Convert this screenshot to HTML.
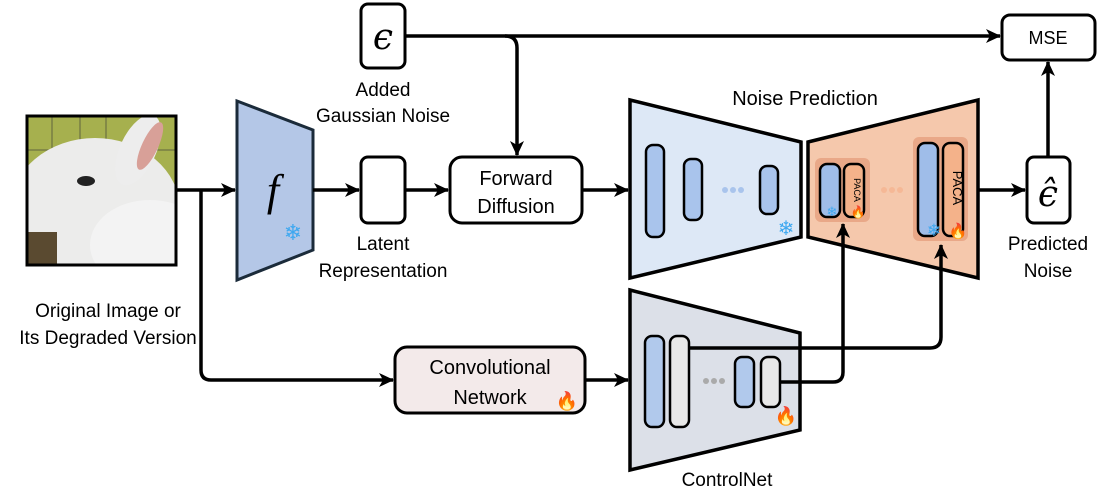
<!DOCTYPE html>
<html><head><meta charset="utf-8"><style>
html,body{margin:0;padding:0;background:#fff;}
svg{display:block;font-family:"Liberation Sans","DejaVu Sans",sans-serif;}
</style></head><body>
<svg width="1105" height="494" viewBox="0 0 1105 494" xmlns="http://www.w3.org/2000/svg">
<defs>
<marker id="a2" markerWidth="16" markerHeight="16" refX="14" refY="8" orient="auto" markerUnits="userSpaceOnUse" viewBox="0 0 16 16">
<path d="M0,1 L15,8 L0,15 L4,8 z" fill="#000"/>
</marker>
<clipPath id="ic"><rect x="27" y="116" width="149" height="149"/></clipPath>
</defs>

<!-- image -->
<g clip-path="url(#ic)">
<rect x="27" y="116" width="149" height="149" fill="#a6b04e"/>
<g stroke="#333" stroke-width="1" opacity="0.6">
<line x1="52" y1="116" x2="52" y2="180"/><line x1="80" y1="116" x2="80" y2="160"/><line x1="106" y1="116" x2="106" y2="160"/>
<line x1="27" y1="150" x2="176" y2="150"/>
</g>
<ellipse cx="95" cy="210" rx="85" ry="72" fill="#ececeb"/>
<ellipse cx="150" cy="245" rx="60" ry="45" fill="#f3f3f3"/>
<ellipse cx="138" cy="150" rx="18" ry="38" fill="#ededed" transform="rotate(25 138 150)"/>
<ellipse cx="150" cy="146" rx="8" ry="26" fill="#d8a098" transform="rotate(25 150 146)"/>
<rect x="27" y="232" width="30" height="33" fill="#5a4a30"/>
<ellipse cx="86" cy="181" rx="9" ry="5" fill="#222"/>
</g>
<rect x="27" y="116" width="149" height="149" fill="none" stroke="#000" stroke-width="3"/>

<!-- encoder f -->
<polygon points="237,101 313,130 313,250 237,280" fill="#b4c7e7" stroke="#1b2b3a" stroke-width="3"/>
<text x="273" y="205" font-family="Liberation Serif,serif" font-style="italic" font-size="44" text-anchor="middle">f</text>
<text x="293" y="240" font-size="22" fill="#3ea8f0" text-anchor="middle">❄</text>

<!-- connectors -->
<g stroke="#000" stroke-width="3.5" fill="none">
<line x1="176" y1="190" x2="235" y2="190" marker-end="url(#a2)"/>
<path d="M201,190 V370 Q201,380 211,380 H393" marker-end="url(#a2)"/>
<line x1="313" y1="190" x2="359" y2="190" marker-end="url(#a2)"/>
<line x1="405" y1="190" x2="448" y2="190" marker-end="url(#a2)"/>
<line x1="405" y1="36" x2="1000" y2="36" marker-end="url(#a2)"/>
<path d="M505,36 Q517,36 517,48 V155" marker-end="url(#a2)"/>
<line x1="582" y1="190" x2="628" y2="190" marker-end="url(#a2)"/>
<line x1="978" y1="190" x2="1025" y2="190" marker-end="url(#a2)"/>
<line x1="1048" y1="157" x2="1048" y2="62" marker-end="url(#a2)"/>
<line x1="585" y1="380" x2="628" y2="380" marker-end="url(#a2)"/>
</g>

<!-- epsilon -->
<rect x="361" y="4" width="44" height="64" rx="7" fill="#fff" stroke="#000" stroke-width="3"/>
<text x="383" y="49" font-family="DejaVu Serif,serif" font-style="italic" font-size="36" text-anchor="middle">ϵ</text>
<text x="383" y="96" font-size="19" text-anchor="middle">Added</text>
<text x="383" y="122" font-size="19" text-anchor="middle">Gaussian Noise</text>

<!-- latent -->
<rect x="361" y="157" width="44" height="66" rx="7" fill="#fff" stroke="#000" stroke-width="3"/>
<text x="383" y="250" font-size="19" text-anchor="middle">Latent</text>
<text x="383" y="277" font-size="19" text-anchor="middle">Representation</text>

<!-- forward diffusion -->
<rect x="450" y="157" width="132" height="66" rx="12" fill="#fff" stroke="#000" stroke-width="3"/>
<text x="516" y="185" font-size="20" text-anchor="middle">Forward</text>
<text x="516" y="213" font-size="20" text-anchor="middle">Diffusion</text>

<!-- labels left -->
<text x="108" y="317" font-size="19" text-anchor="middle">Original Image or</text>
<text x="108" y="344" font-size="19" text-anchor="middle">Its Degraded Version</text>

<!-- Noise prediction -->
<text x="805" y="105" font-size="20" text-anchor="middle">Noise Prediction</text>
<polygon points="630,100 801,142 801,237 630,278" fill="#dde8f6" stroke="#000" stroke-width="3.5"/>
<rect x="646" y="145" width="18" height="92" rx="7" fill="#a9c4ec" stroke="#000" stroke-width="2.5"/>
<rect x="684" y="159" width="18" height="61" rx="7" fill="#a9c4ec" stroke="#000" stroke-width="2.5"/>
<rect x="760" y="166" width="18" height="48" rx="7" fill="#a9c4ec" stroke="#000" stroke-width="2.5"/>
<g fill="#a9c4ec"><circle cx="725" cy="190" r="3"/><circle cx="733" cy="190" r="3"/><circle cx="741" cy="190" r="3"/></g>
<text x="786" y="235" font-size="20" fill="#3ea8f0" text-anchor="middle">❄</text>

<polygon points="808,142 978,100 978,278 808,237" fill="#f5c8ac" stroke="#000" stroke-width="3.5"/>
<rect x="815" y="158" width="55" height="64" rx="6" fill="#e9a888"/>
<rect x="913" y="137" width="55" height="104" rx="6" fill="#e9a888"/>
<rect x="820" y="164" width="20" height="53" rx="7" fill="#9fbde9" stroke="#000" stroke-width="2.5"/>
<rect x="844" y="164" width="20" height="53" rx="7" fill="#f4b28a" stroke="#000" stroke-width="2.5"/>
<text x="854" y="190" font-size="9" text-anchor="middle" transform="rotate(90 854 190)">PACA</text>
<rect x="918" y="143" width="20" height="93" rx="7" fill="#9fbde9" stroke="#000" stroke-width="2.5"/>
<rect x="943" y="143" width="20" height="93" rx="7" fill="#f4b28a" stroke="#000" stroke-width="2.5"/>
<text x="953" y="188" font-size="13" text-anchor="middle" transform="rotate(90 953 188)">PACA</text>
<g fill="#f5b896"><circle cx="884" cy="190" r="3"/><circle cx="892" cy="190" r="3"/><circle cx="900" cy="190" r="3"/></g>
<text x="832" y="216" font-size="13" fill="#3ea8f0" text-anchor="middle">❄</text>
<text x="858" y="216" font-size="12" fill="#e02a10" text-anchor="middle">🔥</text>
<text x="934" y="236" font-size="17" fill="#3ea8f0" text-anchor="middle">❄</text>
<text x="958" y="236" font-size="15" fill="#e02a10" text-anchor="middle">🔥</text>

<!-- ControlNet -->
<polygon points="630,290 800,333 800,430 630,470" fill="#dce0e8" stroke="#000" stroke-width="3.5"/>
<rect x="645" y="336" width="19" height="91" rx="7" fill="#b1c9ec" stroke="#000" stroke-width="2.5"/>
<rect x="670" y="336" width="19" height="91" rx="7" fill="#e8e8e8" stroke="#000" stroke-width="2.5"/>
<rect x="735" y="357" width="19" height="50" rx="7" fill="#b1c9ec" stroke="#000" stroke-width="2.5"/>
<rect x="761" y="357" width="19" height="50" rx="7" fill="#e8e8e8" stroke="#000" stroke-width="2.5"/>
<g fill="#aaa"><circle cx="706" cy="381" r="3"/><circle cx="714" cy="381" r="3"/><circle cx="722" cy="381" r="3"/></g>
<text x="786" y="422" font-size="18" fill="#e02a10" text-anchor="middle">🔥</text>
<text x="727" y="486" font-size="19" text-anchor="middle">ControlNet</text>

<g stroke="#000" stroke-width="3.5" fill="none">
<path d="M689,348 H930 Q941,348 941,337 V245" marker-end="url(#a2)"/>
<path d="M780,382 H833 Q843,382 843,372 V224" marker-end="url(#a2)"/>
</g>

<!-- conv network -->
<rect x="395" y="347" width="190" height="66" rx="12" fill="#f3eaea" stroke="#000" stroke-width="3"/>
<text x="490" y="374" font-size="20" text-anchor="middle">Convolutional</text>
<text x="490" y="404" font-size="20" text-anchor="middle">Network</text>
<text x="567" y="407" font-size="18" fill="#e02a10" text-anchor="middle">🔥</text>

<!-- MSE & eps hat -->
<rect x="1002" y="15" width="93" height="45" rx="8" fill="#fff" stroke="#000" stroke-width="3"/>
<text x="1048" y="44" font-size="18" text-anchor="middle">MSE</text>
<rect x="1027" y="157" width="43" height="66" rx="7" fill="#fff" stroke="#000" stroke-width="3"/>
<text x="1048" y="206" font-family="DejaVu Serif,serif" font-style="italic" font-size="36" text-anchor="middle">ϵ̂</text>
<text x="1048" y="250" font-size="19" text-anchor="middle">Predicted</text>
<text x="1048" y="277" font-size="19" text-anchor="middle">Noise</text>
</svg>
</body></html>
